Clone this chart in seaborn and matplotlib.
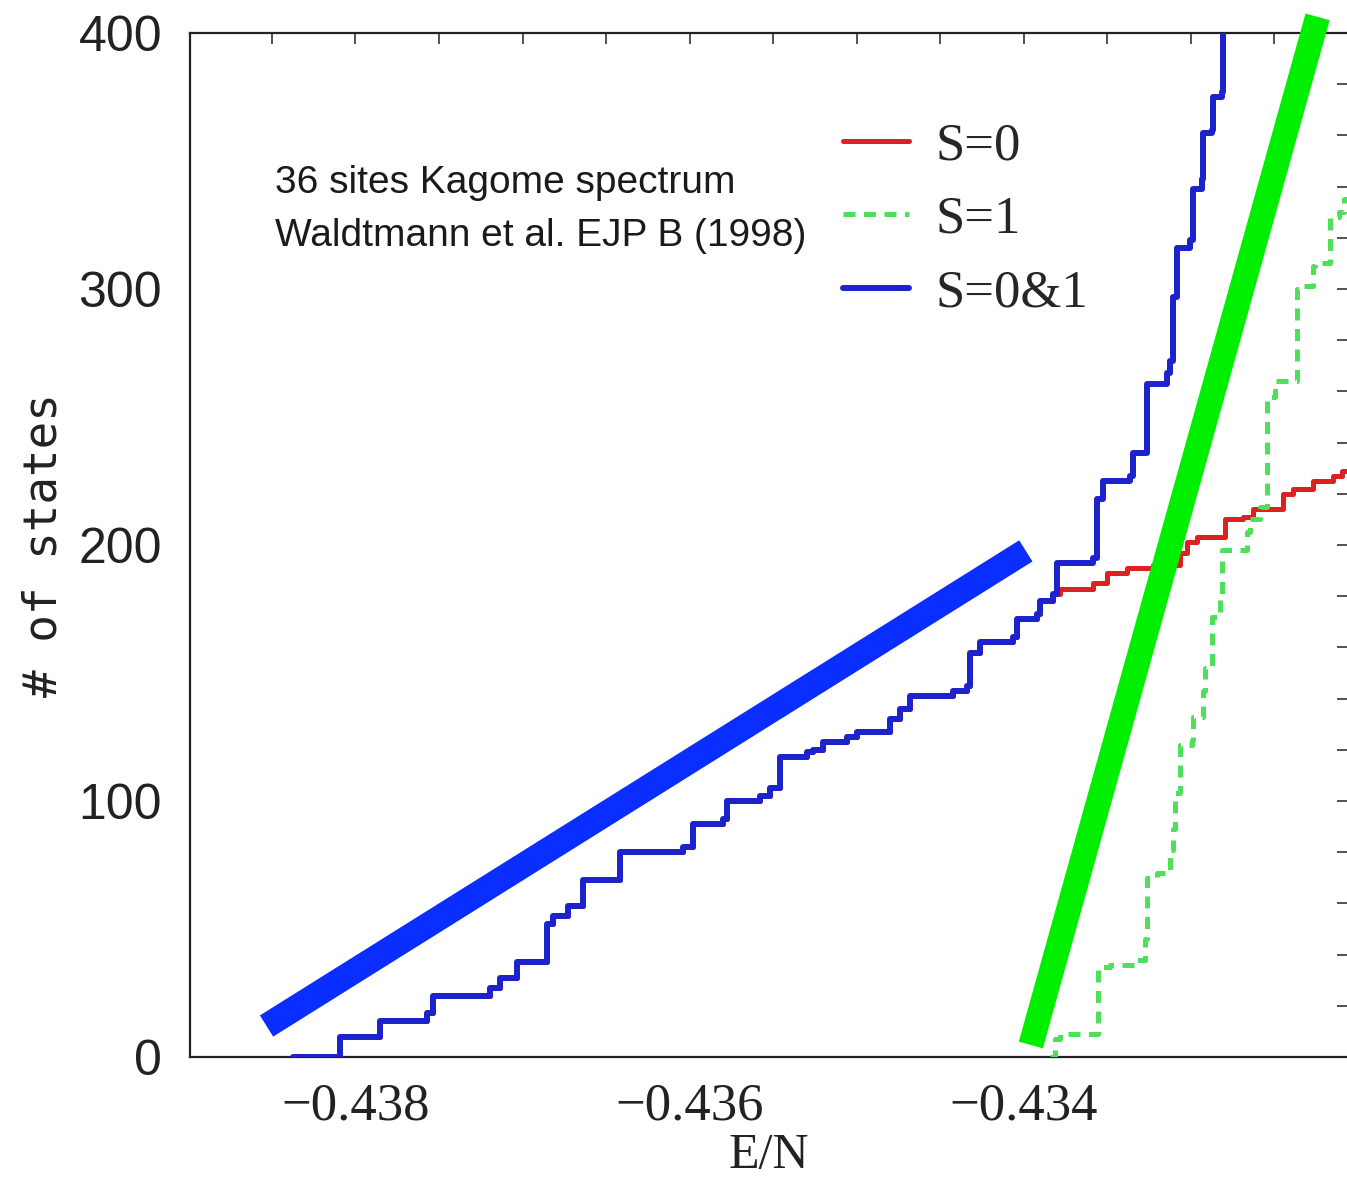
import matplotlib
matplotlib.use("Agg")
import matplotlib.pyplot as plt
from matplotlib.lines import Line2D
from matplotlib.ticker import MultipleLocator
import numpy as np
import pandas as pd
import seaborn as sns

# Cumulative number of states below energy E/N (36-site kagome spectrum)
e_all = [-0.438371, -0.438090, -0.437851, -0.437570, -0.437534, -0.437193,
         -0.437133, -0.437031, -0.436852, -0.436816, -0.436726, -0.436637,
         -0.436416, -0.436039, -0.435979, -0.435800, -0.435776, -0.435578,
         -0.435519, -0.435459, -0.435297, -0.435262, -0.435202, -0.435058,
         -0.434999, -0.434801, -0.434741, -0.434682, -0.434424, -0.434341,
         -0.434323, -0.434263, -0.434066, -0.434042, -0.433922, -0.433904,
         -0.433827, -0.433803, -0.433587, -0.433563, -0.433528, -0.433366,
         -0.433348, -0.433264, -0.433145, -0.433127, -0.433109, -0.433085,
         -0.433007, -0.432989, -0.432936, -0.432930, -0.432876, -0.432870,
         -0.432816, -0.432810]
n_all = [0, 8, 14, 17, 24, 27, 31, 37, 52, 55, 59, 69, 80, 82, 91, 93, 100,
         102, 105, 117, 119, 120, 123, 125, 127, 132, 136, 141, 143, 145, 158,
         162, 164, 171, 173, 178, 181, 193, 195, 218, 225, 227, 236, 263, 267,
         272, 297, 316, 319, 339, 343, 361, 362, 375, 377, 420]

# S=0 sector: identical to the total below the first triplet, then its own steps
e_s0 = e_all[:37] + [-0.433785, -0.433587, -0.433504, -0.433384, -0.433229,
                     -0.433067, -0.433025, -0.432966, -0.432799, -0.432691,
                     -0.432631, -0.432451, -0.432392, -0.432272, -0.432152,
                     -0.432093, -0.432040]
n_s0 = n_all[:37] + [183, 185, 189, 191, 192, 197, 201, 203, 210, 211, 214,
                     220, 222, 225, 227, 229, 231]

# S=1 sector
e_s1 = [-0.433844, -0.433815, -0.433785, -0.433557, -0.433486, -0.433336,
        -0.433277, -0.433265, -0.433205, -0.433127, -0.433109, -0.433097,
        -0.433067, -0.432996, -0.432990, -0.432930, -0.432918, -0.432876,
        -0.432828, -0.432816, -0.432667, -0.432649, -0.432589, -0.432547,
        -0.432499, -0.432368, -0.432350, -0.432272, -0.432260, -0.432170,
        -0.432111, -0.432081, -0.432040]
n_s1 = [0, 7, 9, 35, 36, 38, 46, 70, 72, 81, 89, 103, 122, 124, 133, 143,
        152, 172, 179, 198, 205, 210, 215, 258, 264, 300, 301, 309, 310, 328,
        330, 335, 348]

# Hand-drawn trend guides (E/N, # of states) at both ends
blue_guide_e = [-0.438532, -0.433988]
blue_guide_n = [12.1, 197.7]
green_guide_e = [-0.433958, -0.432242]
green_guide_n = [4.7, 406.3]

x_ticks = [-0.438, -0.436, -0.434]
y_ticks = [0, 100, 200, 300, 400]
legend_labels = ["S=0", "S=1", "S=0&1"]
note_lines = ["36 sites Kagome spectrum", "Waldtmann et al. EJP B (1998)"]

sns.set_style("white")
plt.rcParams["axes.unicode_minus"] = True

W, H = 1347, 1182
fig = plt.figure(figsize=(W / 100, H / 100), dpi=100)
ax = fig.add_axes([190 / W, (H - 1057) / H, 1158 / W, 1024 / H])

RED = "#dd2020"
GREEN = "#4ee05a"
BLUE = "#1c22cc"
DASH = (0, (2.4, 1.7))

df0 = pd.DataFrame({"E": e_s0, "N": n_s0})
df1 = pd.DataFrame({"E": e_s1, "N": n_s1})
dfa = pd.DataFrame({"E": e_all, "N": n_all})

sns.lineplot(data=df0, x="E", y="N", ax=ax, color=RED, lw=3.6,
             drawstyle="steps-post", estimator=None, sort=False, zorder=3)
sns.lineplot(data=df1, x="E", y="N", ax=ax, color=GREEN, lw=3.6,
             linestyle=DASH, drawstyle="steps-post",
             estimator=None, sort=False, zorder=3)
sns.lineplot(data=dfa, x="E", y="N", ax=ax, color=BLUE, lw=4.3,
             drawstyle="steps-post", estimator=None, sort=False, zorder=4)

ax.plot(blue_guide_e, blue_guide_n, color="#0a2eff", lw=18,
        solid_capstyle="butt", zorder=5, clip_on=False)
ax.plot(green_guide_e, green_guide_n, color="#00ee00", lw=18,
        solid_capstyle="butt", zorder=5, clip_on=False)

ax.set_xlim(-0.43899, -0.43206)
ax.set_ylim(0, 400)
ax.set_xticks(x_ticks)
ax.set_yticks(y_ticks)
ax.xaxis.set_minor_locator(MultipleLocator(0.0005))
ax.yaxis.set_minor_locator(MultipleLocator(20))
ax.xaxis.set_major_formatter(matplotlib.ticker.FuncFormatter(
    lambda v, p: f"{v:.3f}".replace("-", "\u2212")))

for side in ["left", "right", "top", "bottom"]:
    ax.spines[side].set_color("#222222")
    ax.spines[side].set_linewidth(1.6)

ax.tick_params(which="both", direction="in", top=True, right=True,
               length=8, width=1.2, color="#333333")
ax.tick_params(axis="x", which="major", labelsize=38, pad=18,
               labelfontfamily="Liberation Serif", labelcolor="#222222")
ax.tick_params(axis="y", which="major", labelsize=36, pad=20,
               labelfontfamily="Liberation Sans", labelcolor="#222222")

ax.set_xlabel("E/N", fontsize=36, family="Liberation Serif", color="#222222",
              labelpad=2)
ax.set_ylabel("# of states", fontsize=33, family="DejaVu Sans Mono",
              color="#222222", labelpad=9)

handles = [Line2D([], [], color=RED, lw=3.6),
           Line2D([], [], color=GREEN, lw=3.6, linestyle=DASH),
           Line2D([], [], color=BLUE, lw=4.3)]
ax.legend(handles, legend_labels, loc="upper left",
          bbox_to_anchor=(843 / W, 1 - 122 / H), bbox_transform=fig.transFigure,
          frameon=False, borderpad=0, borderaxespad=0, handlelength=1.25,
          handletextpad=0.5, labelspacing=0.49,
          prop={"family": "Liberation Serif", "size": 38})

fig.text(275 / W, 1 - 193 / H, note_lines[0], fontsize=28,
         family="Liberation Sans", color="#1a1a1a", va="baseline")
fig.text(275 / W, 1 - 246 / H, note_lines[1], fontsize=28,
         family="Liberation Sans", color="#1a1a1a", va="baseline")

fig.savefig("out.png", dpi=100, facecolor="white")
